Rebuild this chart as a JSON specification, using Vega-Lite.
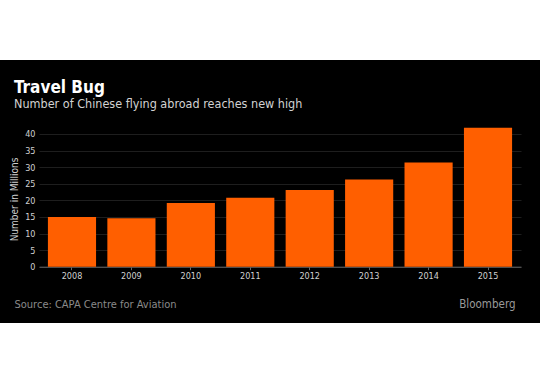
{
  "$schema": "https://vega.github.io/schema/vega-lite/v6.json",
  "width": 540,
  "height": 263,
  "autosize": {"type": "none"},
  "padding": {"top": 60, "bottom": 61, "left": 0, "right": 0},
  "background": "white",
  "config": {
    "view": {"fill": "black", "stroke": null},
    "font": "DejaVu Sans Condensed"
  },
  "title": {
    "text": "Travel Bug",
    "subtitle": "Number of Chinese flying abroad reaches new high",
    "orient": "top",
    "anchor": "start",
    "frame": "group",
    "offset": -51,
    "dx": 14,
    "font": "DejaVu Sans Condensed",
    "fontSize": 17,
    "fontWeight": "bold",
    "color": "#ffffff",
    "subtitleFont": "DejaVu Sans Condensed",
    "subtitleFontSize": 12.5,
    "subtitleColor": "#d2d2d2",
    "subtitlePadding": 1
  },
  "data": {
    "values": [
      {"year": "2008", "passengers": 15.0},
      {"year": "2009", "passengers": 14.6},
      {"year": "2010", "passengers": 19.2},
      {"year": "2011", "passengers": 20.8},
      {"year": "2012", "passengers": 23.1},
      {"year": "2013", "passengers": 26.3},
      {"year": "2014", "passengers": 31.4},
      {"year": "2015", "passengers": 41.9}
    ]
  },
  "encoding": {
    "y": {
      "field": "passengers",
      "type": "quantitative",
      "scale": {"domain": [0, 42], "nice": false, "range": [206.7, 67.35]},
      "axis": {
        "title": "Number in Millions",
        "offset": -39,
        "values": [0, 5, 10, 15, 20, 25, 30, 35, 40],
        "ticks": false,
        "domain": false,
        "labelPadding": 4,
        "labelFontSize": 9,
        "labelColor": "#d0d0d0",
        "gridColor": "#1e1e1e",
        "titleColor": "#d0d0d0",
        "titleFontSize": 10,
        "titleFontWeight": "normal",
        "titleX": -25,
        "titleY": 139,
        "titleBaseline": "middle"
      }
    }
  },
  "layer": [
    {
      "mark": {"type": "bar", "color": "#ff5f00"},
      "encoding": {
        "x": {
          "field": "year",
          "type": "ordinal",
          "scale": {"range": [39, 521], "paddingInner": 0.19, "paddingOuter": 0.15},
          "axis": {
            "title": "Source: CAPA Centre for Aviation",
            "offset": -56.3,
            "labelAngle": 0,
            "labelFontSize": 9,
            "labelColor": "#d0d0d0",
            "labelPadding": 2,
            "tickSize": 3,
            "tickColor": "#666666",
            "domainColor": "#666666",
            "grid": false,
            "titleX": 14,
            "titleY": 37.5,
            "titleAlign": "left",
            "titleAnchor": "start",
            "titleBaseline": "middle",
            "titleFontSize": 11,
            "titleColor": "#8a8a8a",
            "titleFontWeight": "normal"
          }
        }
      }
    },
    {
      "mark": {"type": "bar", "opacity": 0},
      "encoding": {
        "x": {
          "field": "year",
          "type": "ordinal",
          "axis": {
            "title": "Bloomberg",
            "orient": "bottom",
            "offset": -56.3,
            "labels": false,
            "ticks": false,
            "domain": false,
            "grid": false,
            "titleX": 515,
            "titleY": 37.5,
            "titleAlign": "right",
            "titleAnchor": "end",
            "titleBaseline": "middle",
            "titleFontSize": 11.5,
            "titleColor": "#9a9a9a",
            "titleFontWeight": "normal"
          }
        }
      }
    }
  ],
  "resolve": {"axis": {"x": "independent"}}
}
